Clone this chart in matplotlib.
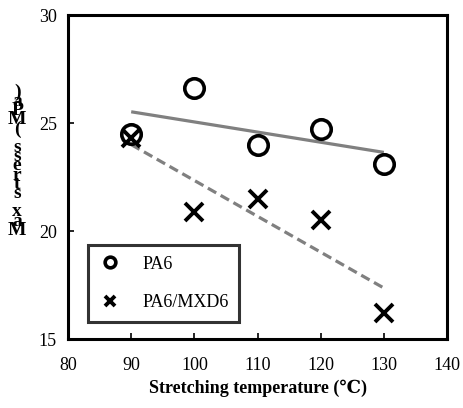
import numpy as np
import matplotlib
matplotlib.use('Agg')
import matplotlib.pyplot as plt

# Данные
temps = [90, 100, 110, 120, 130]
pa6 = [24.5, 26.6, 24.0, 24.7, 23.1]
pa6_mxd6 = [24.3, 20.9, 21.5, 20.5, 16.2]

x_ticks = [80, 90, 100, 110, 120, 130, 140]
y_ticks = [15, 20, 25, 30]

plt.rcParams['font.family'] = ['Liberation Serif', 'DejaVu Serif']

fig = plt.figure(figsize=(4.64, 4.08), dpi=100)
ax = fig.add_axes([0.1466, 0.1691, 0.8168, 0.7941])

# Линии тренда (линейная аппроксимация)
xs = np.array(temps, dtype=float)
k1, b1 = np.polyfit(xs, pa6, 1)
k2, b2 = np.polyfit(xs, pa6_mxd6, 1)
ax.plot(xs, k1 * xs + b1, color='#808080', lw=2.3, solid_capstyle='butt', zorder=2)
ax.plot(xs, k2 * xs + b2, color='#808080', lw=2.3, ls=(0, (3, 1.6)), zorder=2)

# Точки
ax.plot(temps, pa6, 'o', ms=14, mfc='none', mec='black', mew=2.6,
        label='PA6', zorder=3)
ax.plot(temps, pa6_mxd6, 'x', ms=13.5, mec='black', mew=2.8,
        label='PA6/MXD6', zorder=3)

ax.set_xlim(80, 140)
ax.set_ylim(15, 30)
ax.set_xticks(x_ticks)
ax.set_yticks(y_ticks)
ax.tick_params(axis='both', direction='in', length=4, width=1.2, labelsize=13)
ax.tick_params(axis='x', pad=13)
ax.tick_params(axis='y', pad=8)
for s in ax.spines.values():
    s.set_linewidth(2.2)

ax.set_xlabel('Stretching temperature (℃)', fontsize=13, fontweight='bold',
              labelpad=4)

# Вертикальная подпись оси Y (символы друг под другом)
ylab = 'Max stress (MPa)'
fig.text(0.037, 0.605, '\n'.join(ylab[::-1]), fontsize=14, fontweight='bold',
         ha='center', va='center', linespacing=0.4)

leg = ax.legend(loc='lower left', bbox_to_anchor=(0.053, 0.052),
                borderaxespad=0, fontsize=13, markerscale=0.55,
                frameon=True, fancybox=False, edgecolor='black',
                handletextpad=1.2, labelspacing=1.2, borderpad=0.6,
                handlelength=1.2)
leg.get_frame().set_linewidth(2.2)

fig.savefig('out.png', dpi=100)
